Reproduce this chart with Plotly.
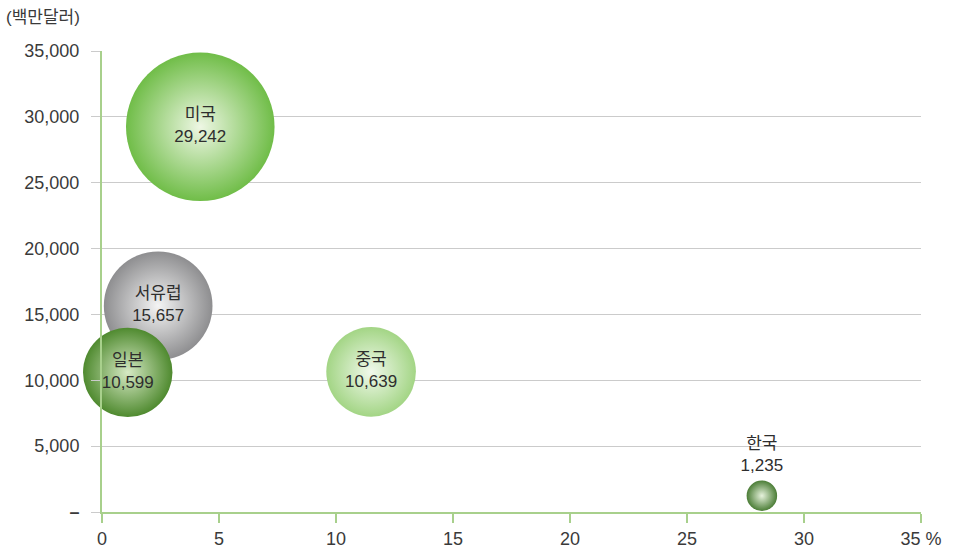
import plotly.graph_objects as go

# Regional data: growth rate (%) on x, market size (million USD) on y and as bubble area
regions = ["미국", "서유럽", "일본", "중국", "한국"]
growth = [4.2, 2.4, 1.1, 11.5, 28.2]
market = [29242, 15657, 10599, 10639, 1235]

edge_colors = ["#70bd48", "#8e8e90", "#4f8a2f", "#a3d585", "#4b7d36"]
center_colors = ["#eef7e4", "#f4f4f4", "#d6e9c4", "#f1f9ec", "#e6f2dc"]
text_pos = ["middle center"] * 4 + ["top center"]

y_ticks = [0, 5000, 10000, 15000, 20000, 25000, 30000, 35000]
y_labels = ["<b>–</b>", "5,000", "10,000", "15,000", "20,000", "25,000", "30,000", "35,000"]
x_ticks = [0, 5, 10, 15, 20, 25, 30, 35]
x_labels = ["0", "5", "10", "15", "20", "25", "30", "35 %"]

FONT = "Liberation Sans, Arial, Noto Sans CJK KR, sans-serif"
GREEN_AXIS = "#a8d08c"
GRID = "#cbcbcb"

labels = [f"{r}<br>{v:,}" for r, v in zip(regions, market)]

fig = go.Figure(
    go.Scatter(
        x=growth,
        y=market,
        mode="markers+text",
        text=labels,
        textposition=text_pos,
        textfont=dict(family=FONT, size=17, color="#2e2e2e"),
        cliponaxis=False,
        hoverinfo="skip",
        marker=dict(
            size=market,
            sizemode="area",
            sizeref=2.65,
            color=edge_colors,
            gradient=dict(type="radial", color=center_colors),
            line=dict(width=0),
            opacity=1,
        ),
    )
)

fig.update_layout(
    width=955,
    height=549,
    margin=dict(l=102, r=34, t=51, b=37),
    paper_bgcolor="white",
    plot_bgcolor="white",
    showlegend=False,
    font=dict(family=FONT, size=17, color="#3a3a3a"),
    xaxis=dict(
        range=[0, 35],
        tickvals=x_ticks,
        ticktext=x_labels,
        showgrid=False,
        zeroline=False,
        showline=True,
        linecolor=GREEN_AXIS,
        linewidth=2,
        ticks="outside",
        ticklen=9,
        tickwidth=1.5,
        tickcolor=GREEN_AXIS,
        tickfont=dict(size=18, color="#3a3a3a"),
        automargin=False,
        fixedrange=True,
    ),
    yaxis=dict(
        range=[0, 35000],
        tickvals=y_ticks,
        ticktext=y_labels,
        showgrid=True,
        gridcolor=GRID,
        gridwidth=1,
        zeroline=False,
        showline=True,
        linecolor=GREEN_AXIS,
        linewidth=2,
        ticks="outside",
        ticklen=9,
        tickcolor=GRID,
        ticklabelstandoff=8,
        tickfont=dict(size=18, color="#3a3a3a"),
        automargin=False,
        fixedrange=True,
    ),
    annotations=[
        dict(
            text="(백만달러)",
            xref="paper",
            yref="paper",
            x=-0.12,
            y=1.0,
            xanchor="left",
            yanchor="bottom",
            yshift=22,
            showarrow=False,
            font=dict(family=FONT, size=17, color="#3a3a3a"),
        )
    ],
)

fig.write_html("out.html")
